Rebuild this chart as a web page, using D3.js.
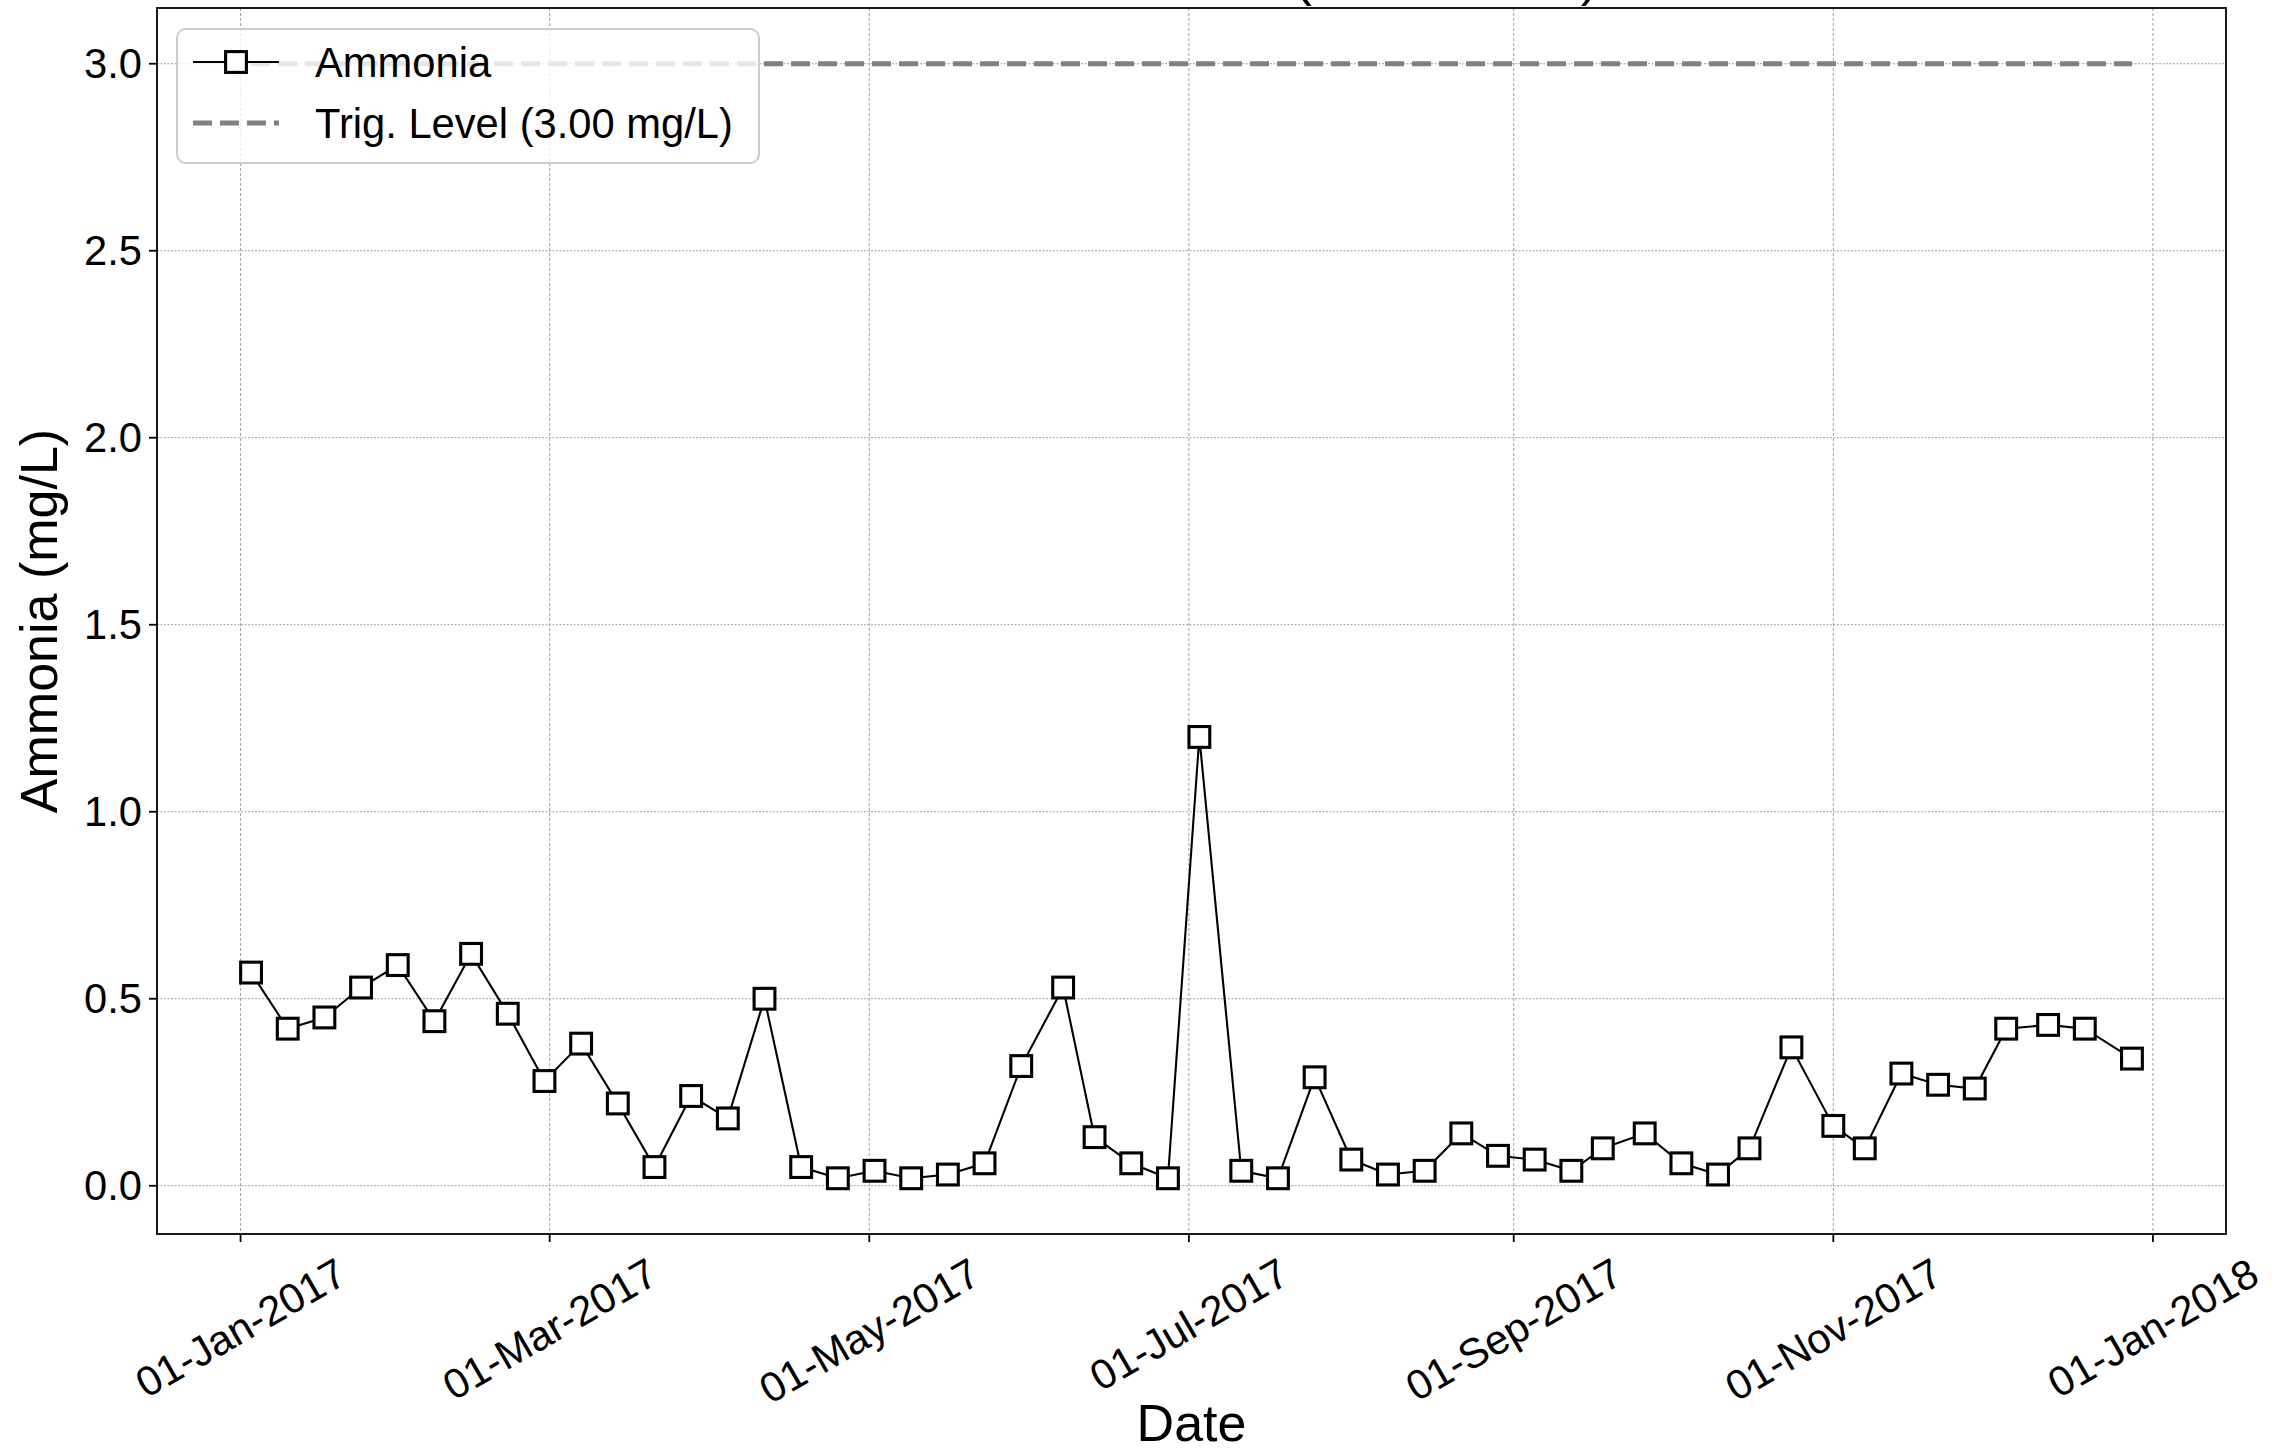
<!DOCTYPE html>
<html>
<head>
<meta charset="utf-8">
<script src="https://cdn.jsdelivr.net/npm/d3@7"></script>
<style>
  body { margin: 0; background: #fff; }
  text { font-family: "Liberation Sans", Arial, sans-serif; fill: #000; }
</style>
</head>
<body>
<div id="chart"></div>
<script>
// Data
const sampleDates = [
    "2017-01-03", "2017-01-10", "2017-01-17", "2017-01-24", "2017-01-31",
    "2017-02-07", "2017-02-14", "2017-02-21", "2017-02-28", "2017-03-07",
    "2017-03-14", "2017-03-21", "2017-03-28", "2017-04-04", "2017-04-11",
    "2017-04-18", "2017-04-25", "2017-05-02", "2017-05-09", "2017-05-16",
    "2017-05-23", "2017-05-30", "2017-06-07", "2017-06-13", "2017-06-20",
    "2017-06-27", "2017-07-03", "2017-07-11", "2017-07-18", "2017-07-25",
    "2017-08-01", "2017-08-08", "2017-08-15", "2017-08-22", "2017-08-29",
    "2017-09-05", "2017-09-12", "2017-09-18", "2017-09-26", "2017-10-03",
    "2017-10-10", "2017-10-16", "2017-10-24", "2017-11-01", "2017-11-07",
    "2017-11-14", "2017-11-21", "2017-11-28", "2017-12-04", "2017-12-12",
    "2017-12-19", "2017-12-28"
];
const ammoniaValues = [
    0.57, 0.42, 0.45, 0.53, 0.59,
    0.44, 0.62, 0.46, 0.28, 0.38,
    0.22, 0.05, 0.24, 0.18, 0.50,
    0.05, 0.02, 0.04, 0.02, 0.03,
    0.06, 0.32, 0.53, 0.13, 0.06,
    0.02, 1.20, 0.04, 0.02, 0.29,
    0.07, 0.03, 0.04, 0.14, 0.08,
    0.07, 0.04, 0.10, 0.14, 0.06,
    0.03, 0.10, 0.37, 0.16, 0.10,
    0.30, 0.27, 0.26, 0.42, 0.43,
    0.42, 0.34
];
const triggerLevel = 3.0;
const yTickValues = [0, 0.5, 1.0, 1.5, 2.0, 2.5, 3.0];
const seriesLabel = "Ammonia";
const triggerLabel = "Trig. Level (3.00 mg/L)";
const titleText = "Ammonia Time Series at Station (ST-01 2017)";

// Layout
const width = 2296;
const height = 1452;
const plotLeft = 157;
const plotRight = 2226;
const plotTop = 8;
const plotBottom = 1234;
const tickFont = 41.7;
const labelFont = 52;
const tickLen = 8;

const parseDate = d3.utcParse("%Y-%m-%d");
const data = sampleDates.map((d, i) => ({ date: parseDate(d), value: ammoniaValues[i] }));

const svg = d3.select("#chart")
    .append("svg")
    .attr("width", width)
    .attr("height", height);

svg.append("rect").attr("width", width).attr("height", height).attr("fill", "#fff");

// Scales with 5% padding like matplotlib
const xExt = d3.extent(data, d => d.date);
const xPad = (xExt[1] - xExt[0]) * 0.05;
const x = d3.scaleUtc()
    .domain([new Date(+xExt[0] - xPad), new Date(+xExt[1] + xPad)])
    .range([plotLeft, plotRight]);

const yMin = d3.min(ammoniaValues);
const yMax = Math.max(d3.max(ammoniaValues), triggerLevel);
const yPad = (yMax - yMin) * 0.05;
const y = d3.scaleLinear()
    .domain([yMin - yPad, yMax + yPad])
    .range([plotBottom, plotTop]);

const xTicks = d3.utcMonth.every(2).range(x.domain()[0], x.domain()[1]);
const fmtDate = d3.utcFormat("%d-%b-%Y");

// Grid lines
svg.append("g")
    .selectAll("line")
    .data(xTicks)
    .join("line")
    .attr("x1", d => x(d)).attr("x2", d => x(d))
    .attr("y1", plotTop).attr("y2", plotBottom)
    .attr("stroke", "#a0a0a0")
    .attr("stroke-width", 1)
    .attr("stroke-dasharray", "3,2");

svg.append("g")
    .selectAll("line")
    .data(yTickValues)
    .join("line")
    .attr("x1", plotLeft).attr("x2", plotRight)
    .attr("y1", d => y(d)).attr("y2", d => y(d))
    .attr("stroke", "#a0a0a0")
    .attr("stroke-width", 1)
    .attr("stroke-dasharray", "2,1.5");

// Trigger level line
svg.append("line")
    .attr("x1", x(xExt[0])).attr("x2", x(xExt[1]))
    .attr("y1", y(triggerLevel)).attr("y2", y(triggerLevel))
    .attr("stroke", "#808080")
    .attr("stroke-width", 5)
    .attr("stroke-dasharray", "19,8");

// Data line
const line = d3.line().x(d => x(d.date)).y(d => y(d.value));
svg.append("path")
    .datum(data)
    .attr("d", line)
    .attr("fill", "none")
    .attr("stroke", "#000")
    .attr("stroke-width", 2.1);

// Square markers
const ms = 20.8;
svg.append("g")
    .selectAll("rect")
    .data(data)
    .join("rect")
    .attr("x", d => x(d.date) - ms / 2)
    .attr("y", d => y(d.value) - ms / 2)
    .attr("width", ms)
    .attr("height", ms)
    .attr("fill", "#fff")
    .attr("stroke", "#000")
    .attr("stroke-width", 3.1);

// Spines
svg.append("rect")
    .attr("x", plotLeft).attr("y", plotTop)
    .attr("width", plotRight - plotLeft).attr("height", plotBottom - plotTop)
    .attr("fill", "none")
    .attr("stroke", "#000")
    .attr("stroke-width", 1.8);

// X ticks and rotated labels
const xTickG = svg.append("g");
xTickG.selectAll("line")
    .data(xTicks)
    .join("line")
    .attr("x1", d => x(d)).attr("x2", d => x(d))
    .attr("y1", plotBottom).attr("y2", plotBottom + tickLen)
    .attr("stroke", "#000")
    .attr("stroke-width", 1.8);

const ang = Math.PI / 6;
xTickG.selectAll("text")
    .data(xTicks)
    .join("text")
    .attr("text-anchor", "middle")
    .attr("dy", "0.35em")
    .style("font-size", tickFont + "px")
    .text(d => fmtDate(d))
    .attr("transform", function(d) {
        const w = this.getComputedTextLength();
        const h = tickFont * 1.117;
        const bh = w * Math.sin(ang) + h * Math.cos(ang);
        const cy = plotBottom + tickLen + 7 + bh / 2;
        return `translate(${x(d)},${cy}) rotate(-30)`;
    });

// Y ticks and labels
const yTickG = svg.append("g");
yTickG.selectAll("line")
    .data(yTickValues)
    .join("line")
    .attr("x1", plotLeft - tickLen).attr("x2", plotLeft)
    .attr("y1", d => y(d)).attr("y2", d => y(d))
    .attr("stroke", "#000")
    .attr("stroke-width", 1.8);

yTickG.selectAll("text")
    .data(yTickValues)
    .join("text")
    .attr("x", plotLeft - tickLen - 7)
    .attr("y", d => y(d))
    .attr("dy", "0.35em")
    .attr("text-anchor", "end")
    .style("font-size", tickFont + "px")
    .text(d => d3.format(".1f")(d));

// Axis labels
svg.append("text")
    .attr("x", (plotLeft + plotRight) / 2)
    .attr("y", 1441)
    .attr("text-anchor", "middle")
    .style("font-size", labelFont + "px")
    .text("Date");

svg.append("text")
    .attr("transform", `translate(57,${(plotTop + plotBottom) / 2}) rotate(-90)`)
    .attr("text-anchor", "middle")
    .style("font-size", labelFont + "px")
    .text("Ammonia (mg/L)");

// Title, mostly cut off at the top edge
svg.append("text")
    .attr("x", 1598)
    .attr("y", -5)
    .attr("text-anchor", "end")
    .style("font-size", labelFont + "px")
    .text(titleText);

// Legend
const legend = svg.append("g");
legend.append("rect")
    .attr("x", 177).attr("y", 29)
    .attr("width", 582).attr("height", 134)
    .attr("rx", 9)
    .attr("fill", "#fff")
    .attr("fill-opacity", 0.8)
    .attr("stroke", "#cccccc")
    .attr("stroke-width", 2);

legend.append("line")
    .attr("x1", 193).attr("x2", 279)
    .attr("y1", 62).attr("y2", 62)
    .attr("stroke", "#000")
    .attr("stroke-width", 2.1);
legend.append("rect")
    .attr("x", 236 - ms / 2).attr("y", 62 - ms / 2)
    .attr("width", ms).attr("height", ms)
    .attr("fill", "#fff")
    .attr("stroke", "#000")
    .attr("stroke-width", 3.1);
legend.append("text")
    .attr("x", 315).attr("y", 62)
    .attr("dy", "0.35em")
    .style("font-size", tickFont + "px")
    .text(seriesLabel);

legend.append("line")
    .attr("x1", 193).attr("x2", 279)
    .attr("y1", 123).attr("y2", 123)
    .attr("stroke", "#808080")
    .attr("stroke-width", 5)
    .attr("stroke-dasharray", "19,8");
legend.append("text")
    .attr("x", 315).attr("y", 123)
    .attr("dy", "0.35em")
    .style("font-size", tickFont + "px")
    .text(triggerLabel);
</script>
</body>
</html>
